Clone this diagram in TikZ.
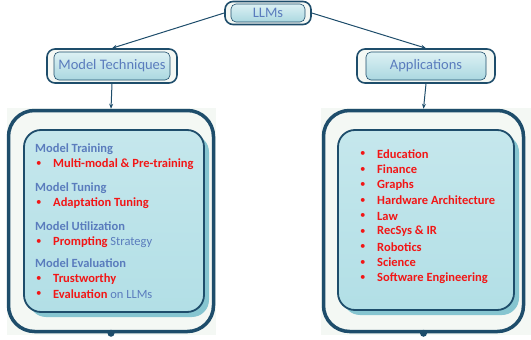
\documentclass[tikz,border=0pt]{standalone}
\usepackage{fontspec}
\setmainfont{Carlito}
\usetikzlibrary{positioning,arrows.meta}

\definecolor{navy}{HTML}{1E4D6B}
\definecolor{paper}{HTML}{F4F8F4}
\definecolor{cyanfill}{HTML}{B2DFE6}
\definecolor{cyanshade}{HTML}{86C5D0}
\definecolor{headblue}{HTML}{5A7CBD}
\definecolor{itemred}{HTML}{F21616}

\begin{document}
\begin{tikzpicture}[x=1pt, y=-1pt,
  tagframe/.style={draw=navy, line width=1.6pt, rounded corners=8pt, fill=paper},
  tag/.style={draw=navy, line width=0.6pt, rounded corners=5pt, top color=cyanfill!45, bottom color=cyanfill!95!navy, text=headblue, font=\fontsize{14.5}{16}\selectfont},
  bigframe/.style={draw=navy, line width=3.5pt, rounded corners=26pt, fill=paper},
  panel/.style={draw=navy, line width=1.8pt, rounded corners=17pt, top color=cyanfill!75, bottom color=cyanfill},
  panelshade/.style={fill=cyanshade, rounded corners=17pt},
  head/.style={anchor=west, inner sep=0pt, text=headblue, font=\fontsize{12.5}{14}\selectfont\bfseries},
  bullet/.style={anchor=west, inner sep=0pt, text=itemred, font=\fontsize{11}{13}\selectfont},
  item/.style={anchor=west, inner sep=0pt, text=itemred, font=\fontsize{12.5}{14}\selectfont\bfseries},
  link/.style={draw=navy, line width=1pt, -{Stealth[length=5pt,width=4pt]}},
]
\useasboundingbox (0,0) rectangle (531,340);

% top level
\node[tagframe, minimum width=86pt, minimum height=23pt] (llmsf) at (268,13) {};
\node[tag, minimum width=74pt, minimum height=18pt] (llms) at (llmsf) {LLMs};

% second level
\node[tagframe, minimum width=130pt, minimum height=34pt] (techf) at (112,66) {};
\node[tag, minimum width=116pt, minimum height=28pt] (tech) at (techf) {Model Techniques};
\node[tagframe, minimum width=138pt, minimum height=34pt] (appf) at (426,66) {};
\node[tag, minimum width=120pt, minimum height=28pt] (app) at (appf) {Applications};

% panels
\fill[paper] (7,108) rectangle (216,335);
\fill[paper] (321,108) rectangle (531,335);
\node[bigframe, minimum width=205pt, minimum height=221pt] (techbox) at (111,221) {};
\node[bigframe, minimum width=200pt, minimum height=221pt] (appbox) at (423.5,221) {};
\node[panelshade, minimum width=180pt, minimum height=182pt] at (119,226) {};
\node[panel, minimum width=180pt, minimum height=182pt] (techpanel) at (114,221) {};
\node[panelshade, minimum width=176pt, minimum height=180pt] at (431,225) {};
\node[panel, minimum width=176pt, minimum height=180pt] (apppanel) at (426,220) {};
\fill[navy] (techbox.south) circle (3.5pt);
\fill[navy] (appbox.south) circle (3.5pt);

% connectors
\draw[link] (llmsf.west) -- (techf.north);
\draw[link] (llmsf.east) -- (appf.north);
\draw[link] (techf.south) -- (techbox.north);
\draw[link] (appf.south) -- (appbox.north);

% model techniques
\node[head] (train) at (35,149) {Model Training};
\node[bullet] (trainb) at (36,164) {•};
\node[item] (traini) at (53,164) {Multi-modal \& Pre-training};
\node[head] (tune) at (35,188) {Model Tuning};
\node[bullet] (tuneb) at (36,203) {•};
\node[item] (tunei) at (53,203) {Adaptation Tuning};
\node[head] (util) at (35,226) {Model Utilization};
\node[bullet] (utilb) at (36,242) {•};
\node[item] (utili) at (53,242) {Prompting \textcolor{headblue}{\mdseries Strategy}};
\node[head] (eval) at (35,263) {Model Evaluation};
\node[bullet] (evalb) at (36,279) {•};
\node[item] (evali) at (53,279) {Trustworthy};
\node[bullet] (evalc) at (36,294) {•};
\node[item] (evalj) at (53,294) {Evaluation \textcolor{headblue}{\mdseries on LLMs}};

% applications
\foreach \name [count=\i] in {Education, Finance, Graphs, Hardware Architecture, Law, RecSys \& IR, Robotics, Science, Software Engineering} {
  \node[bullet] (appb\i) at (360,154+15.5*\i-15.5) {•};
  \node[item] (appi\i) at (377,154+15.5*\i-15.5) {\name};
}
\end{tikzpicture}
\end{document}
